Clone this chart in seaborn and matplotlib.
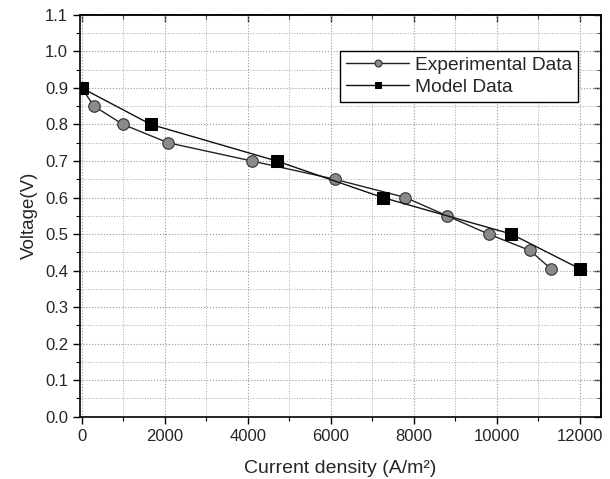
import matplotlib
matplotlib.use("Agg")
import matplotlib.pyplot as plt
import seaborn as sns
import pandas as pd
from matplotlib.ticker import MultipleLocator, FormatStrFormatter

# Data
exp_current = [0, 300, 1000, 2080, 4100, 6100, 7800, 8800, 9800, 10800, 11300]
exp_voltage = [0.90, 0.85, 0.80, 0.75, 0.70, 0.65, 0.60, 0.55, 0.50, 0.455, 0.405]
model_current = [0, 1670, 4700, 7250, 10350, 12000]
model_voltage = [0.90, 0.80, 0.70, 0.60, 0.50, 0.405]

sns.set_style("ticks")
plt.rcParams['font.family'] = ['Liberation Sans', 'DejaVu Sans']

fig = plt.figure(figsize=(6.10, 4.79), dpi=100)
ax = fig.add_axes([0.131, 0.130, 0.855, 0.839])

df_exp = pd.DataFrame({"x": exp_current, "y": exp_voltage})
df_mod = pd.DataFrame({"x": model_current, "y": model_voltage})

sns.lineplot(data=df_exp, x="x", y="y", ax=ax, color="#222222", lw=1.0,
             marker="o", markersize=8.3, markerfacecolor="#8a8a8a",
             markeredgecolor="#333333", markeredgewidth=0.8,
             label="Experimental Data", sort=False)
sns.lineplot(data=df_mod, x="x", y="y", ax=ax, color="#111111", lw=1.0,
             marker="s", markersize=8.3, markerfacecolor="black",
             markeredgecolor="black", label="Model Data", sort=False)

ax.set_xlim(-40, 12520)
ax.set_ylim(0.0, 1.1)
ax.xaxis.set_major_locator(MultipleLocator(2000))
ax.xaxis.set_minor_locator(MultipleLocator(1000))
ax.yaxis.set_major_locator(MultipleLocator(0.1))
ax.yaxis.set_minor_locator(MultipleLocator(0.05))
ax.yaxis.set_major_formatter(FormatStrFormatter('%.1f'))

ax.grid(which='major', color='#999999', linestyle=':', linewidth=0.8)
ax.grid(which='minor', color='#aaaaaa', linestyle=':', linewidth=0.7)
ax.set_axisbelow(True)

for s in ax.spines.values():
    s.set_visible(True)
    s.set_color('black')
    s.set_linewidth(1.2)

ax.tick_params(which='both', direction='out', top=False, right=False, labelsize=12, color='black')
ax.tick_params(which='major', length=5, width=1.0)
ax.tick_params(which='minor', length=3, width=0.8)

# inward ticks on top and right
secx = ax.secondary_xaxis('top')
secx.xaxis.set_major_locator(MultipleLocator(2000))
secx.xaxis.set_minor_locator(MultipleLocator(1000))
secx.tick_params(which='both', direction='in', labeltop=False)
secx.tick_params(which='major', length=5, width=1.0)
secx.tick_params(which='minor', length=3, width=0.8)
secx.spines['top'].set_linewidth(1.2)
secy = ax.secondary_yaxis('right')
secy.yaxis.set_major_locator(MultipleLocator(0.1))
secy.yaxis.set_minor_locator(MultipleLocator(0.05))
secy.tick_params(which='both', direction='in', labelright=False)
secy.tick_params(which='major', length=5, width=1.0)
secy.tick_params(which='minor', length=3, width=0.8)
secy.spines['right'].set_linewidth(1.2)

ax.set_xlabel("Current density (A/m²)", fontsize=14, labelpad=12)
ax.set_ylabel("Voltage(V)", fontsize=13.5, labelpad=5)

leg = ax.legend(loc='upper right', bbox_to_anchor=(0.955, 0.911), fontsize=13.8,
                frameon=True, fancybox=False, framealpha=1, edgecolor='black',
                handlelength=3.3, handletextpad=0.3, borderpad=0.3, labelspacing=0.25,
                borderaxespad=0)
leg.get_frame().set_linewidth(1.0)
for h in leg.legend_handles:
    h.set_markersize(5)

fig.savefig("out.png", dpi=100)
